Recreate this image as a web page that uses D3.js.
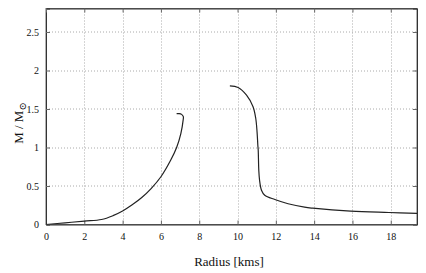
<!DOCTYPE html>
<html>
<head>
<meta charset="utf-8">
<script src="https://cdn.jsdelivr.net/npm/d3@7"></script>
<style>
body { margin: 0; background: #fff; }
text { font-family: "Liberation Serif", "DejaVu Serif", "Times New Roman", serif; fill: #111; }
.grid line { stroke: #aaa; stroke-dasharray: 1,2; }
</style>
</head>
<body>
<svg width="426" height="273"></svg>
<script>
// mass-radius data
var branch1R = [0, 1.0, 2.0, 2.9, 3.5, 4.0, 4.5, 5.0, 5.5, 6.0, 6.5, 6.82, 7.04, 7.16, 7.17, 7.08, 6.95, 6.82];
var branch1M = [0, 0.022, 0.044, 0.065, 0.115, 0.175, 0.255, 0.35, 0.47, 0.62, 0.83, 1.0, 1.18, 1.355, 1.40, 1.43, 1.44, 1.44];
var branch2R = [9.6, 10.03, 10.47, 10.81, 10.95, 11.02, 11.06, 11.08, 11.11, 11.15, 11.25, 11.42, 11.95, 12.64, 13.5, 13.93, 15.91, 17.9, 19.4];
var branch2M = [1.80, 1.78, 1.68, 1.53, 1.38, 1.20, 1.03, 0.965, 0.705, 0.575, 0.445, 0.38, 0.325, 0.27, 0.225, 0.212, 0.173, 0.156, 0.145];
var xTicks = [0, 2, 4, 6, 8, 10, 12, 14, 16, 18];
var yTicks = [0, 0.5, 1, 1.5, 2, 2.5];

var serif = "'Liberation Serif', 'DejaVu Serif', 'Times New Roman', serif";
var margin = {top: 8.5, right: 9, bottom: 48.5, left: 46},
    svg = d3.select('svg'),
    width = 426 - margin.left - margin.right,
    height = 273 - margin.top - margin.bottom;

var x = d3.scaleLinear().domain([0, 19.37]).range([0, width]);
var y = d3.scaleLinear().domain([0, 2.805]).range([height, 0]);

var g = svg.append("g").attr("transform", "translate(" + margin.left + "," + margin.top + ")");

g.append("defs").append("clipPath")
    .attr("id", "clip")
    .append("rect")
    .attr("width", width)
    .attr("height", height);

// grid
g.append("g").attr("class", "grid")
    .selectAll("line").data(xTicks.filter(d => d > 0)).enter().append("line")
    .attr("x1", d => Math.round(x(d)) + 0.5).attr("x2", d => Math.round(x(d)) + 0.5)
    .attr("y1", 0).attr("y2", height);
g.append("g").attr("class", "grid")
    .selectAll("line").data(yTicks.filter(d => d > 0)).enter().append("line")
    .attr("y1", d => Math.round(y(d)) + 0.5).attr("y2", d => Math.round(y(d)) + 0.5)
    .attr("x1", 0).attr("x2", width);

// frame
g.append("rect")
    .attr("width", width).attr("height", height)
    .attr("fill", "none").attr("stroke", "#666");

// axes with inner ticks
var fmt = d3.format("");
var ax = g.append("g").attr("transform", "translate(0," + height + ")")
    .call(d3.axisBottom(x).tickValues(xTicks).tickSize(-4).tickPadding(8).tickFormat(fmt));
var ay = g.append("g")
    .call(d3.axisLeft(y).tickValues(yTicks).tickSize(-4).tickPadding(7).tickFormat(fmt));
g.append("g").call(d3.axisTop(x).tickValues(xTicks).tickSize(-4).tickFormat(""));
g.append("g").attr("transform", "translate(" + width + ",0)")
    .call(d3.axisRight(y).tickValues(yTicks).tickSize(-4).tickFormat(""));
g.selectAll(".domain").attr("stroke", "#333");
g.selectAll(".tick line").attr("stroke", "#666");
[ax, ay].forEach(a => {
    a.attr("font-family", serif).attr("font-size", 10);
    a.selectAll("text").attr("fill", "#111");
});

// curves
var line = d3.line()
    .x(d => x(d[0]))
    .y(d => y(d[1]))
    .curve(d3.curveCatmullRom.alpha(0.5));

[[branch1R, branch1M], [branch2R, branch2M]].forEach(b => {
    g.append("path")
        .datum(d3.zip(b[0], b[1]))
        .attr("clip-path", "url(#clip)")
        .attr("fill", "none")
        .attr("stroke", "#222")
        .attr("stroke-width", 1.2)
        .attr("d", line);
});

// labels
svg.append("text")
    .attr("x", 229).attr("y", 266)
    .attr("text-anchor", "middle")
    .attr("font-family", serif)
    .attr("font-size", 13)
    .text("Radius [kms]");

var yl = svg.append("text")
    .attr("transform", "translate(23,123) rotate(-90)")
    .attr("text-anchor", "middle")
    .attr("font-family", serif)
    .attr("font-size", 13);
yl.append("tspan").text("M / M");
yl.append("tspan").attr("dy", 3).attr("font-size", 10).text("\u2299");
</script>
</body>
</html>
